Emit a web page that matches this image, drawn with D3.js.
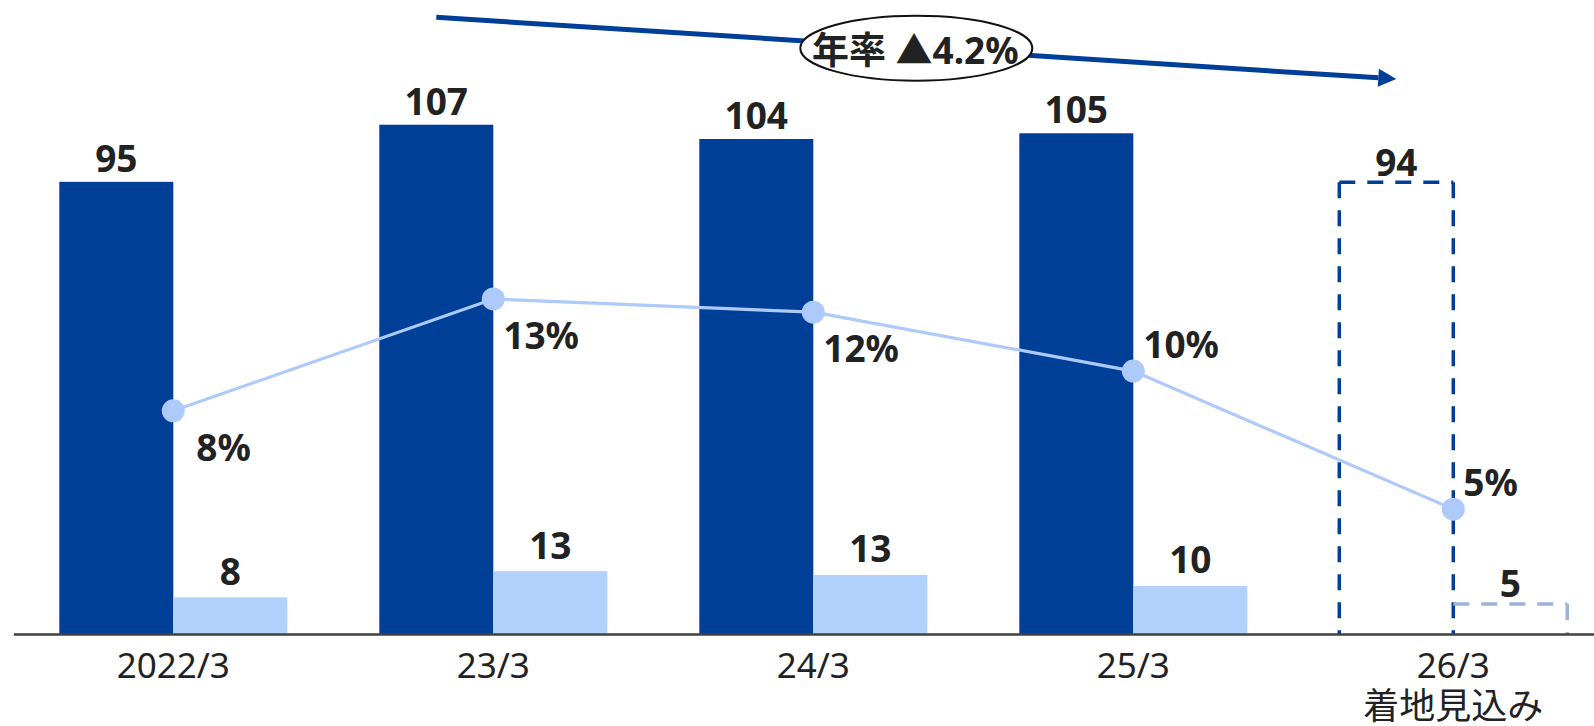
<!DOCTYPE html>
<html>
<head>
<meta charset="utf-8">
<script src="https://cdn.jsdelivr.net/npm/d3@7"></script>
<style>
  html, body { margin: 0; padding: 0; background: #ffffff; }
  svg { display: block; }
  text { font-family: "Noto Sans", "Noto Sans CJK JP", sans-serif; fill: #222222; }
</style>
</head>
<body>
<svg id="chart" width="1594" height="726"></svg>
<script>
// ---- data ----
const categories = ["2022/3", "23/3", "24/3", "25/3", "26/3"];
const categorySubLabels = ["", "", "", "", "着地見込み"];
const salesValues = [95, 107, 104, 105.2, 94.9];
const salesLabels = ["95", "107", "104", "105", "94"];
const profitValues = [7.7, 13.2, 12.4, 10.1, 6.3];
const profitLabels = ["8", "13", "13", "10", "5"];
const marginValues = [8.45, 12.7, 12.2, 9.96, 4.71];
const marginLabels = ["8%", "13%", "12%", "10%", "5%"];
const forecastFlags = [false, false, false, false, true];
const trendLabel = "年率 ▲4.2%";

// ---- styles ----
const DARK = "#003F98";
const LIGHT = "#B3D1FD";
const LINE = "#ADCAFA";
const LIGHT_DASH = "#9DB3D8";

const W = 1594, H = 726;
const baseY = 634;
const svg = d3.select("#chart");

const x0 = d3.scaleBand().domain(categories).range([13.3, 1613.3])
  .paddingInner(0.2875).paddingOuter(0.14375);
const x1 = d3.scaleBand().domain(["sales", "profit"]).range([0, x0.bandwidth()]);
const y = d3.scaleLinear().domain([0, 133.2]).range([baseY, 0]);
const y2 = d3.scaleLinear().domain([0, 24]).range([633, 633 - 24 * 26.3]);

const rows = categories.map((c, i) => ({
  c, i, sales: salesValues[i], profit: profitValues[i],
  margin: marginValues[i], forecast: forecastFlags[i]
}));

// ---- solid bars ----
const g = svg.append("g");
rows.filter(d => !d.forecast).forEach(d => {
  g.append("rect")
    .attr("x", x0(d.c) + x1("sales")).attr("y", y(d.sales))
    .attr("width", x1.bandwidth()).attr("height", baseY - y(d.sales))
    .attr("fill", DARK);
  g.append("rect")
    .attr("x", x0(d.c) + x1("profit")).attr("y", y(d.profit))
    .attr("width", x1.bandwidth()).attr("height", baseY - y(d.profit))
    .attr("fill", LIGHT);
});

// ---- forecast dashed bars (open at bottom) ----
rows.filter(d => d.forecast).forEach(d => {
  const xs = x0(d.c) + x1("sales"), xe = xs + x1.bandwidth();
  const ys = y(d.sales);
  const dash = "16,12";
  [[xs, ys, xs, baseY], [xs, ys, xe, ys], [xe, ys, xe, baseY]].forEach(s => {
    g.append("line").attr("x1", s[0]).attr("y1", s[1]).attr("x2", s[2]).attr("y2", s[3])
      .attr("stroke", DARK).attr("stroke-width", 3.5).attr("stroke-dasharray", dash);
  });
  const ps = x0(d.c) + x1("profit"), pe = ps + x1.bandwidth();
  const yp = y(d.profit);
  [[ps, yp, pe, yp], [pe, yp, pe, baseY]].forEach(s => {
    g.append("line").attr("x1", s[0]).attr("y1", s[1]).attr("x2", s[2]).attr("y2", s[3])
      .attr("stroke", LIGHT_DASH).attr("stroke-width", 3.5).attr("stroke-dasharray", dash);
  });
});

// ---- bar labels ----
rows.forEach(d => {
  g.append("text")
    .attr("x", x0(d.c) + x1("sales") + x1.bandwidth() / 2)
    .attr("y", y(d.sales) - (d.forecast ? 6 : 10))
    .attr("text-anchor", "middle").attr("font-size", 37).attr("font-weight", 700)
    .text(salesLabels[d.i]);
  g.append("text")
    .attr("x", x0(d.c) + x1("profit") + x1.bandwidth() / 2)
    .attr("y", y(d.profit) - (d.forecast ? 7 : 12.5))
    .attr("text-anchor", "middle").attr("font-size", 37).attr("font-weight", 700)
    .text(profitLabels[d.i]);
});

// ---- axis ----
const axis = d3.axisBottom(x0).tickSize(0).tickSizeOuter(0);
const ax = svg.append("g").attr("transform", `translate(0,${baseY})`).call(axis);
ax.select(".domain").attr("stroke", "#404040").attr("stroke-width", 2.5);
ax.selectAll(".tick text")
  .attr("y", 44).attr("dy", null)
  .attr("font-size", 35).attr("fill", "#222222")
  .style("font-family", '"Noto Sans", "Noto Sans CJK JP", sans-serif');
ax.selectAll(".tick").each(function(c, i) {
  if (categorySubLabels[i]) {
    d3.select(this).append("text")
      .attr("y", 85).attr("text-anchor", "middle")
      .attr("font-size", 36).attr("fill", "#222222")
      .style("font-family", '"Noto Sans CJK JP", sans-serif')
      .text(categorySubLabels[i]);
  }
});

// ---- margin line ----
const cx = d => x0(d.c) + x0.bandwidth() / 2;
const lineGen = d3.line().x(cx).y(d => y2(d.margin));
svg.append("path").datum(rows).attr("d", lineGen)
  .attr("fill", "none").attr("stroke", LINE).attr("stroke-width", 3.2);
svg.selectAll("circle.pt").data(rows).join("circle")
  .attr("class", "pt").attr("cx", cx).attr("cy", d => y2(d.margin))
  .attr("r", 11.5).attr("fill", LINE);
svg.selectAll("text.pl").data(rows).join("text")
  .attr("class", "pl")
  .attr("x", d => cx(d) + (d.i === 0 ? 23 : 10))
  .attr("y", d => y2(d.margin) + (d.i < 3 ? 50 : -13))
  .attr("font-size", 37).attr("font-weight", 700)
  .text(d => marginLabels[d.i]);

// ---- trend arrow ----
const ax1 = x0(categories[1]) + x1("sales") + x1.bandwidth() / 2;
const ax2 = x0(categories[4]) + x1("sales") + x1.bandwidth() / 2;
const ay1 = 17.3, ay2 = 79;
const ang = Math.atan2(ay2 - ay1, ax2 - ax1);
const L = 18, hw = 9;
const bx = ax2 - L * Math.cos(ang), by = ay2 - L * Math.sin(ang);
svg.append("line").attr("x1", ax1).attr("y1", ay1).attr("x2", bx).attr("y2", by)
  .attr("stroke", DARK).attr("stroke-width", 5);
svg.append("polygon").attr("points", [
  [ax2, ay2],
  [bx + hw * Math.sin(ang), by - hw * Math.cos(ang)],
  [bx - hw * Math.sin(ang), by + hw * Math.cos(ang)]
].map(p => p.join(",")).join(" ")).attr("fill", DARK);

const ecx = (ax1 + ax2) / 2, ecy = (ay1 + ay2) / 2;
svg.append("ellipse").attr("cx", ecx).attr("cy", ecy).attr("rx", 116).attr("ry", 32.5)
  .attr("fill", "#ffffff").attr("stroke", "#111111").attr("stroke-width", 2);
svg.append("text").attr("x", ecx - 1).attr("y", ecy + 16)
  .attr("text-anchor", "middle").attr("font-size", 37).attr("font-weight", 700)
  .text(trendLabel);
</script>
</body>
</html>
